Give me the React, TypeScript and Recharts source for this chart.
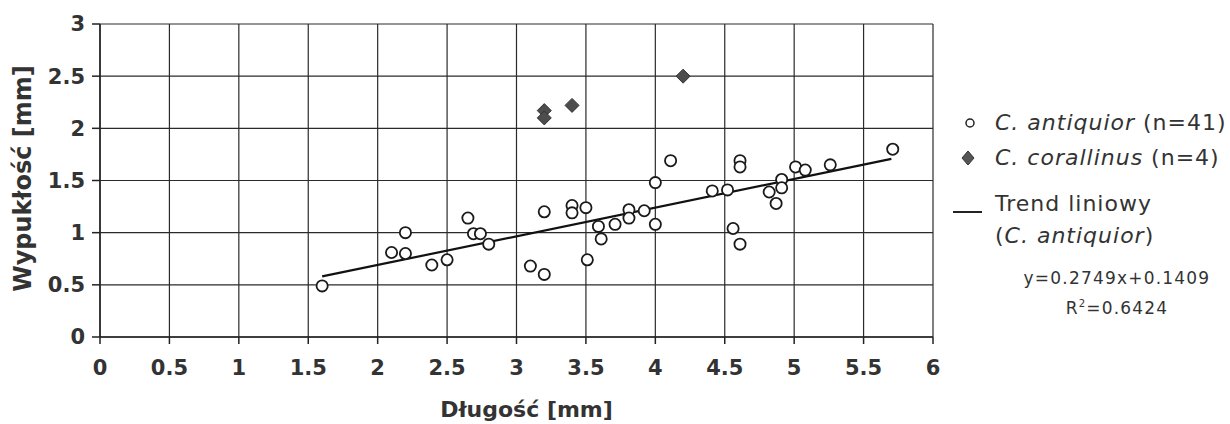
import React from 'react';
import {
    ScatterChart,
    Scatter,
    XAxis,
    YAxis,
    CartesianGrid,
    Legend,
} from 'recharts';

// C. antiquior (n=41)
const antiquiorX = [
    1.6, 2.1, 2.2, 2.2, 2.39, 2.5, 2.65, 2.69, 2.74, 2.8, 3.1, 3.2, 3.2, 3.4, 3.4, 3.5, 3.51, 3.59, 3.61, 3.71,
    3.81, 3.81, 3.92, 4.0, 4.0, 4.11, 4.41, 4.52, 4.56, 4.61, 4.61, 4.61, 4.82, 4.87, 4.91, 4.91, 5.01, 5.08, 5.26, 5.71,
];
const antiquiorY = [
    0.49, 0.81, 1.0, 0.8, 0.69, 0.74, 1.14, 0.99, 0.99, 0.89, 0.68, 0.6, 1.2, 1.26, 1.19, 1.24, 0.74, 1.06, 0.94, 1.08,
    1.22, 1.14, 1.21, 1.48, 1.08, 1.69, 1.4, 1.41, 1.04, 0.89, 1.69, 1.63, 1.39, 1.28, 1.51, 1.43, 1.63, 1.6, 1.65, 1.8,
];

// C. corallinus (n=4)
const corallinusX = [3.2, 3.2, 3.4, 4.2];
const corallinusY = [2.17, 2.1, 2.22, 2.5];

// linear trend for C. antiquior
const trendSlope = 0.2749;
const trendIntercept = 0.1409;
const trendX = [1.6, 5.7];

const xTicks = [0, 0.5, 1, 1.5, 2, 2.5, 3, 3.5, 4, 4.5, 5, 5.5, 6];
const yTicks = [0, 0.5, 1, 1.5, 2, 2.5, 3];

const antiquiorData = antiquiorX.map((x, i) => ({ x, y: antiquiorY[i] }));
const corallinusData = corallinusX.map((x, i) => ({ x, y: corallinusY[i] }));
const trendData = trendX.map((x) => ({ x, y: trendSlope * x + trendIntercept }));

const TEXT = '#333';
const FONT = '"DejaVu Sans", sans-serif';

const CircleDot = (props: any) => {
    const { cx, cy } = props;
    return <circle cx={cx} cy={cy} r={5.6} fill="#fff" stroke="#1a1a1a" strokeWidth={1.8} />;
};

const DiamondDot = (props: any) => {
    const { cx, cy } = props;
    const s = 7;
    return (
        <polygon
            points={`${cx},${cy - s} ${cx + s},${cy} ${cx},${cy + s} ${cx - s},${cy}`}
            fill="#4d4d4d"
            stroke="#333"
            strokeWidth={1}
        />
    );
};

const NoDot = () => <g />;

const renderLegend = () => (
    <div
        style={{
            fontFamily: FONT,
            color: TEXT,
            fontSize: 22,
            letterSpacing: 1,
            position: 'relative',
            width: 280,
            height: 220,
        }}
    >
        <svg width={40} height={220} style={{ position: 'absolute', left: 0, top: 0 }}>
            <circle cx={20} cy={18} r={4} fill="#fff" stroke="#222" strokeWidth={1.5} />
            <polygon points="18,46 24,53 18,60 12,53" fill="#555" stroke="#333" strokeWidth={1} />
            <line x1={3} x2={32} y1={107} y2={107} stroke="#222" strokeWidth={2} />
        </svg>
        <div style={{ position: 'absolute', left: 45, top: 4, whiteSpace: 'nowrap', lineHeight: '28px' }}>
            <i>C. antiquior</i> (n=41)
        </div>
        <div style={{ position: 'absolute', left: 45, top: 39, whiteSpace: 'nowrap', lineHeight: '28px' }}>
            <i>C. corallinus</i> (n=4)
        </div>
        <div style={{ position: 'absolute', left: 45, top: 83, whiteSpace: 'nowrap', lineHeight: '32px' }}>
            Trend liniowy
            <br />
            (<i>C. antiquior</i>)
        </div>
        <div
            style={{
                position: 'absolute',
                left: 67,
                width: 200,
                top: 161,
                textAlign: 'center',
                fontSize: 17,
                letterSpacing: 1.2,
                lineHeight: '25px',
                whiteSpace: 'nowrap',
            }}
        >
            y=0.2749x+0.1409
            <br />
            R<sup style={{ fontSize: 10 }}>2</sup>=0.6424
        </div>
    </div>
);

const App: React.FC = () => {
    return (
        <div style={{ position: 'absolute', left: 0, top: 0, width: 1230, height: 424, background: '#fff' }}>
            <ScatterChart
                width={1230}
                height={424}
                margin={{ top: 24, right: 297, bottom: 0, left: 0 }}
                style={{ fontFamily: FONT }}
            >
                <CartesianGrid stroke="#2a2a2a" strokeWidth={1.2} />
                <XAxis
                    type="number"
                    dataKey="x"
                    domain={[0, 6]}
                    ticks={xTicks}
                    height={87}
                    tickSize={7}
                    tickMargin={16}
                    stroke="#222"
                    strokeWidth={1.5}
                    tick={{ fill: TEXT, fontSize: 21, fontWeight: 'bold' }}
                    label={({ viewBox }: any) => (
                        <text
                            x={viewBox.x + viewBox.width / 2 + 10}
                            y={viewBox.y + 80}
                            textAnchor="middle"
                            fill={TEXT}
                            fontSize={22}
                            fontWeight="bold"
                            fontFamily={FONT}
                        >
                            Długość [mm]
                        </text>
                    )}
                />
                <YAxis
                    type="number"
                    dataKey="y"
                    domain={[0, 3]}
                    ticks={yTicks}
                    width={100}
                    tickSize={8}
                    tickMargin={7}
                    stroke="#222"
                    strokeWidth={1.5}
                    tick={{ fill: TEXT, fontSize: 21, fontWeight: 'bold' }}
                    label={({ viewBox }: any) => {
                        const cy = viewBox.y + viewBox.height / 2 - 2;
                        return (
                            <text
                                x={31}
                                y={cy}
                                transform={`rotate(-90, 31, ${cy})`}
                                textAnchor="middle"
                                fill={TEXT}
                                fontSize={24}
                                fontWeight="bold"
                                fontFamily={FONT}
                            >
                                Wypukłość [mm]
                            </text>
                        );
                    }}
                />
                <Scatter
                    name="Trend liniowy"
                    data={trendData}
                    line={{ stroke: '#111', strokeWidth: 2.2 }}
                    shape={NoDot}
                    legendType="none"
                    isAnimationActive={false}
                />
                <Scatter name="C. antiquior" data={antiquiorData} shape={CircleDot} isAnimationActive={false} />
                <Scatter name="C. corallinus" data={corallinusData} shape={DiamondDot} isAnimationActive={false} />
                <Legend
                    layout="horizontal"
                    align="center"
                    verticalAlign="middle"
                    content={renderLegend}
                    wrapperStyle={{ left: 950, top: 105, width: 280, height: 220 }}
                />
            </ScatterChart>
        </div>
    );
};

export default App;
